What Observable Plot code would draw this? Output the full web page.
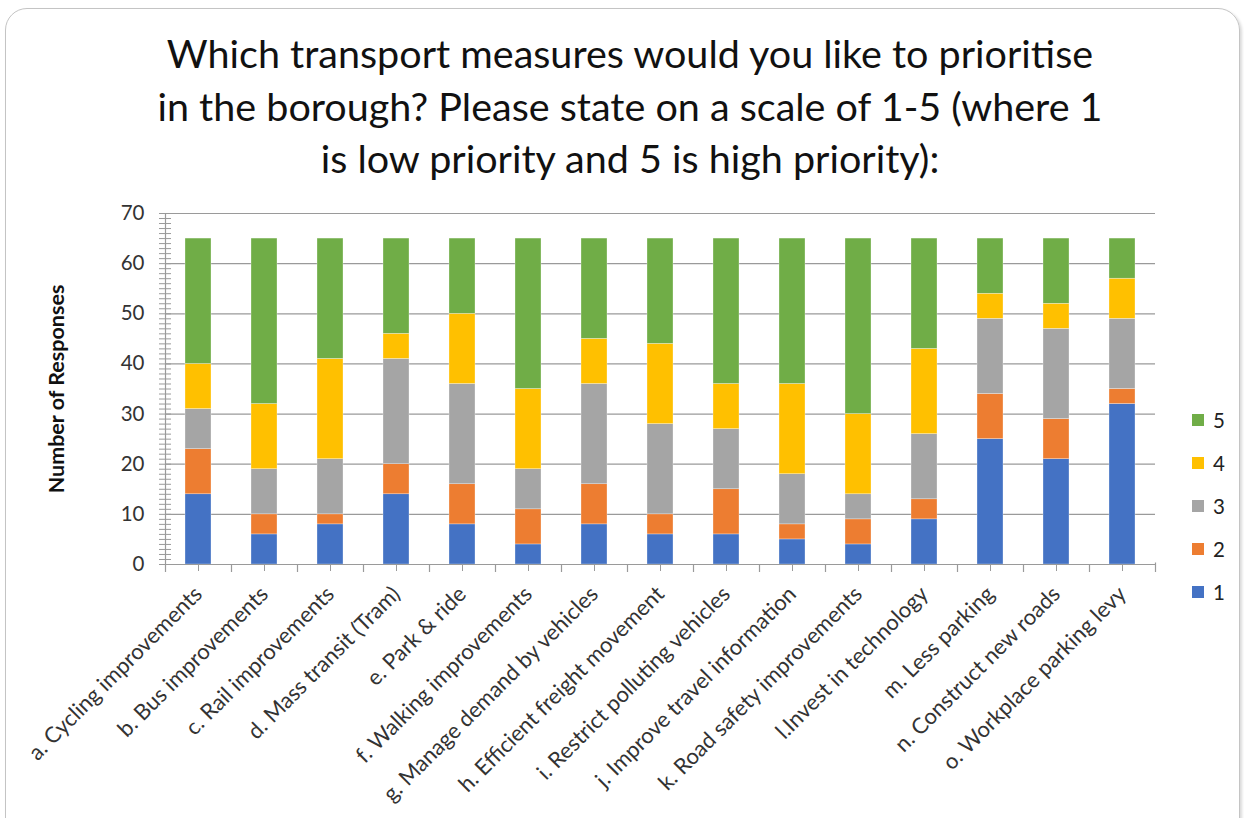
<!DOCTYPE html>
<html>
<head>
<meta charset="utf-8">
<script src="https://cdn.jsdelivr.net/npm/d3@7"></script>
<script src="https://cdn.jsdelivr.net/npm/@observablehq/plot@0.6"></script>
<style>
  html, body { margin: 0; padding: 0; background: #fff; }
  #wrap { position: relative; width: 1244px; height: 818px; overflow: hidden; font-family: Lato, "Open Sans", sans-serif; }
  #border { position: absolute; left: 5px; top: 8px; width: 1233px; height: 840px; border: 1.5px solid #c4c4c4; border-radius: 22px; box-shadow: 2px 2px 3px rgba(0,0,0,0.15); }
  #title { position: absolute; left: 8px; top: 27px; width: 1244px; text-align: center; font-size: 39.5px; line-height: 52.5px; color: #111; }
  #ylabel { position: absolute; left: 56px; top: 389px; transform: translate(-50%, -50%) rotate(-90deg); font-size: 21.5px; font-weight: bold; white-space: nowrap; font-family: Lato, sans-serif; color: #111; }
  #legend { position: absolute; left: 1192px; top: 398px; }
  .li { height: 43.2px; display: flex; align-items: center; font-size: 20.5px; color: #222; }
  .sw { width: 12px; height: 12px; margin-right: 9px; }
  #chart { position: absolute; left: 0; top: 0; }
</style>
</head>
<body>
<div id="wrap">
  <div id="border"></div>
  <div id="chart"></div>
  <div id="title">Which transport measures would you like to prioritise<br>in the borough? Please state on a scale of 1-5 (where 1<br>is low priority and 5 is high priority):</div>
  <div id="ylabel">Number of Responses</div>
  <div id="legend"></div>
</div>
<script>
const categories = [
  "a. Cycling improvements",
  "b. Bus improvements",
  "c. Rail improvements",
  "d. Mass transit (Tram)",
  "e. Park & ride",
  "f. Walking improvements",
  "g. Manage demand by vehicles",
  "h. Efficient freight movement",
  "i. Restrict polluting vehicles",
  "j. Improve travel information",
  "k. Road safety improvements",
  "l.Invest in technology",
  "m. Less parking",
  "n. Construct new roads",
  "o. Workplace parking levy"
];
const ratings = ["1", "2", "3", "4", "5"];
const rating1 = [14, 6, 8, 14, 8, 4, 8, 6, 6, 5, 4, 9, 25, 21, 32];
const rating2 = [9, 4, 2, 6, 8, 7, 8, 4, 9, 3, 5, 4, 9, 8, 3];
const rating3 = [8, 9, 11, 21, 20, 8, 20, 18, 12, 10, 5, 13, 15, 18, 14];
const rating4 = [9, 13, 20, 5, 14, 16, 9, 16, 9, 18, 16, 17, 5, 5, 8];
const rating5 = [25, 33, 24, 19, 15, 30, 20, 21, 29, 29, 35, 22, 11, 13, 8];
const colors = ["#4472C4", "#ED7D31", "#A5A5A5", "#FFC000", "#70AD47"];
const yTicks = [0, 10, 20, 30, 40, 50, 60, 70];

const series = [rating1, rating2, rating3, rating4, rating5];
const data = [];
categories.forEach((c, i) => {
  ratings.forEach((r, k) => data.push({category: c, rating: r, value: series[k][i]}));
});

const W = 1244, H = 818;
const mL = 165, mR = 89, mT = 213, mB = 254;
const step = (W - mL - mR) / categories.length;
const half = step / 2;
const axisColor = "#9a9a9a";

const chart = Plot.plot({
  width: W,
  height: H,
  marginLeft: mL,
  marginRight: mR,
  marginTop: mT,
  marginBottom: mB,
  style: {fontFamily: "Lato, 'Open Sans', sans-serif", color: "#333", background: "transparent"},
  x: {domain: categories, paddingInner: 0.6, paddingOuter: 0.3, label: null},
  y: {domain: [0, 70], label: null},
  color: {domain: ratings, range: colors},
  marks: [
    Plot.gridY({ticks: yTicks.slice(1), stroke: axisColor, strokeOpacity: 1, strokeWidth: 1.2}),
    Plot.barY(data, {x: "category", y: "value", fill: "rating", order: ratings, stroke: "#ffffff", strokeWidth: 0.5, strokeOpacity: 0.6}),
    Plot.ruleY([0], {stroke: axisColor, strokeWidth: 1.2}),
    Plot.ruleX([categories[0]], {dx: -half, y1: -1.6, y2: 70, stroke: axisColor, strokeWidth: 1.2}),
    Plot.ruleX(categories.slice(1), {dx: -half, y1: 0, y2: -1.6, stroke: axisColor, strokeWidth: 1.2}),
    Plot.ruleX([categories[categories.length - 1]], {dx: half, y1: 0.3, y2: -1.6, stroke: axisColor, strokeWidth: 1.2}),
    Plot.axisY({ticks: d3.range(0, 71), tickSize: 12, dx: 6, stroke: axisColor, tickFormat: () => "", label: null}),
    Plot.axisY({ticks: yTicks, tickSize: 0, tickPadding: 21, fontSize: 20.5, label: null}),
    Plot.axisX({tickRotate: -45, tickSize: 7, tickPadding: 19, fontSize: 22, label: null, stroke: axisColor})
  ]
});
document.getElementById("chart").appendChild(chart);

const legend = document.getElementById("legend");
ratings.slice().reverse().forEach((r) => {
  const i = ratings.indexOf(r);
  const row = document.createElement("div");
  row.className = "li";
  row.innerHTML = `<span class="sw" style="background:${colors[i]}"></span><span>${r}</span>`;
  legend.appendChild(row);
});
</script>
</body>
</html>
